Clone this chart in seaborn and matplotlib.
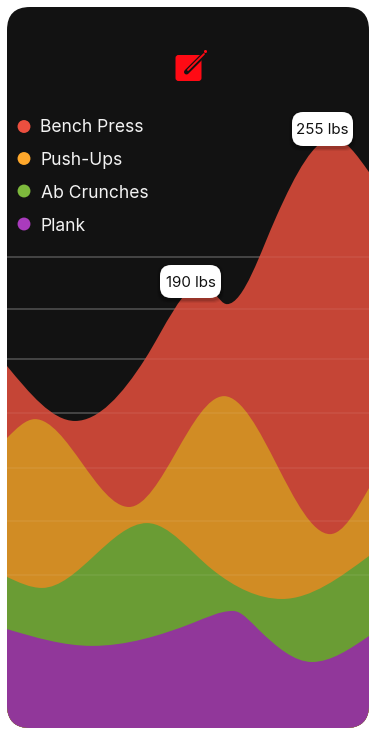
import numpy as np
import matplotlib.pyplot as plt
import seaborn as sns
from matplotlib.patches import FancyBboxPatch, PathPatch
from matplotlib.path import Path
from matplotlib.transforms import Affine2D

bench_x = [0, 68, 138, 196, 220, 270, 326, 362]
bench_press = [157.4, 133.5, 160.4, 193.5, 184.3, 223.0, 256.5, 241.7]
push_x = [0, 28, 122, 217, 323, 362]
push_ups = [126.1, 134.3, 96.1, 144.3, 84.3, 104.3]
ab_x = [0, 35, 140, 205, 275, 362]
ab_crunches = [65.7, 60.9, 89.1, 69.0, 56.1, 74.8]
plank_x = [0, 85, 186, 226, 252, 305, 362]
plank = [43.0, 35.7, 45.7, 50.9, 42.6, 28.7, 40.0]
grid_values = [204.8, 182.2, 160.4, 137.0, 113.0, 90.0, 66.6]

names = ['Bench Press', 'Push-Ups', 'Ab Crunches', 'Plank']
series = [(bench_x, bench_press), (push_x, push_ups), (ab_x, ab_crunches), (plank_x, plank)]
dot_colors = ['#EB4F3F', '#FFA82B', '#7DB93C', '#A93BBD']
area_colors = ['#C54536', '#D18C24', '#6A9C34', '#91379A']

sns.set_theme(style='white')
plt.rcParams['font.family'] = ['Inter', 'DejaVu Sans']

W, H = 376, 735
fig = plt.figure(figsize=(W / 100, H / 100), dpi=100, facecolor='white')
ax = fig.add_axes([7 / W, 7 / H, 362 / W, 721 / H])
ax.axis('off')

# pixel coordinates, origin top left
px = Affine2D().scale(1, -1).translate(0, H)


def box(x0, y0, x1, y1, r, **kw):
    p = FancyBboxPatch((x0 + r, y0 + r), x1 - x0 - 2 * r, y1 - y0 - 2 * r,
                       boxstyle=f'round,pad={r},rounding_size={r}',
                       transform=px, linewidth=0, clip_on=False, **kw)
    ax.add_patch(p)
    return p


# smooth outline through the points, flat at the peaks and dips
def area_path(xs, ys):
    xs = np.array(xs, float)
    ys = np.array(ys, float)
    sec = np.diff(ys) / np.diff(xs)
    m = np.zeros(len(xs))
    for i in range(1, len(xs) - 1):
        if sec[i - 1] * sec[i] > 0:
            w = xs[i + 1] - xs[i], xs[i] - xs[i - 1]
            m[i] = 1.4 * (sec[i - 1] * w[0] + sec[i] * w[1]) / (w[0] + w[1])
    m[0] = 1.5 * sec[0] - 0.5 * m[1]
    m[-1] = 1.5 * sec[-1] - 0.5 * m[-2]
    verts = [(xs[0], 0), (xs[0], ys[0])]
    codes = [Path.MOVETO, Path.LINETO]
    for i in range(len(xs) - 1):
        dx = xs[i + 1] - xs[i]
        verts += [(xs[i] + dx / 3, ys[i] + m[i] * dx / 3),
                  (xs[i + 1] - dx / 3, ys[i + 1] - m[i + 1] * dx / 3),
                  (xs[i + 1], ys[i + 1])]
        codes += [Path.CURVE4] * 3
    verts += [(xs[-1], 0), (xs[0], 0)]
    codes += [Path.LINETO, Path.CLOSEPOLY]
    return Path(verts, codes)


card = box(7, 7, 369, 728, 23, facecolor='#121212', zorder=0)

for v in grid_values:
    ax.axhline(v, color='white', alpha=0.22, lw=1.1, zorder=1)

for i, (xs, ys) in enumerate(series):
    patch = PathPatch(area_path(xs, ys), facecolor=area_colors[i], edgecolor='none', zorder=2 + i * 0.1)
    ax.add_patch(patch)
    patch.set_clip_path(card)

for v in grid_values:
    ax.axhline(v, color='white', alpha=0.07, lw=1.1, zorder=3)

# legend
dot_y = [126.5, 158.5, 191, 224]
text_y = [132, 165, 198, 231]
text_x = [40, 40, 41, 41]
sns.scatterplot(x=[24] * 4, y=dot_y, hue=names, palette=dot_colors, s=86, linewidth=0,
                legend=False, transform=px, clip_on=False, zorder=5, ax=ax)
for name, tx, ty in zip(names, text_x, text_y):
    ax.text(tx, ty, name, transform=px, color='#F2F2F2', fontsize=12.6, va='baseline', ha='left', zorder=5)
ax.set_xlim(0, 362)
ax.set_ylim(0, 313.5)

# value labels
for x0, y0, x1, y1, base, label in [(292, 112, 353, 146, 134, '255 lbs'), (160, 265, 221, 298, 287, '190 lbs')]:
    for grow, a in [(3, 0.06), (2, 0.08), (1, 0.1)]:
        box(x0 - grow, y0 + 2 - grow, x1 + grow, y1 + 2 + grow, 11, facecolor='black', alpha=a, zorder=6)
    box(x0, y0, x1, y1, 11, facecolor='white', zorder=7)
    ax.text((x0 + x1) / 2, base, label, transform=px, color='#111111', fontsize=10.9,
            ha='center', va='baseline', zorder=8)

# icon
box(175.5, 55, 201.5, 81, 3, facecolor='#FF0A14', zorder=5)
ax.plot([186.5, 201], [72, 57.5], color='#121212', lw=3.6, solid_capstyle='round', transform=px, clip_on=False, zorder=6)
ax.plot([188, 204], [70, 54], color='#FF0A14', lw=1.3, solid_capstyle='round', transform=px, clip_on=False, zorder=7)
ax.plot([205], [51], 'o', color='#FF0A14', ms=2.2, mew=0, transform=px, clip_on=False, zorder=7)

fig.savefig('out.png', dpi=100, facecolor='white')
